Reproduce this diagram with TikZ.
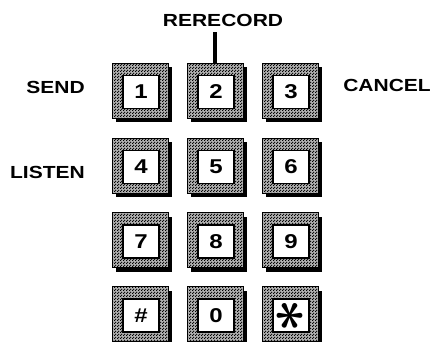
\documentclass[tikz,border=0pt]{standalone}
\usepackage{fontspec}
\setmainfont{Liberation Sans}[FakeStretch=1.2]
\usepackage{tikz}
\usetikzlibrary{shadows,patterns.meta}

% halftone dots on the key rims
\tikzdeclarepattern{
  name=keydots,
  type=uncolored,
  bounding box={(0pt,0pt) and (3pt,3pt)},
  tile size={(3pt,3pt)},
  code={
    \fill (0.75pt,0.75pt) circle (0.95pt);
    \fill (2.25pt,2.25pt) circle (0.95pt);
  }
}

\begin{document}
\begin{tikzpicture}[x=1pt,y=1pt,
  key/.style={minimum width=56pt,minimum height=55pt,draw,line width=1pt,
    drop shadow={shadow xshift=4pt,shadow yshift=-4pt,fill=black,opacity=1},
    preaction={fill=black!30},preaction={pattern=keydots}},
  face/.style={draw,fill=white,line width=1.9pt,minimum width=36pt,minimum height=33pt,
    inner sep=0pt,font=\fontsize{20}{20}\selectfont\bfseries},
  lbl/.style={font=\fontsize{17.5}{18}\selectfont\bfseries,inner sep=1pt}]
  \useasboundingbox (0,0) rectangle (435,341);
  \clip (0,0) rectangle (435,341);

  % key bodies
  \node[key] (k1) at (140,250.5) {};
  \node[key] (k2) at (215,250.5) {};
  \node[key] (k3) at (290,250.5) {};
  \node[key] (k4) at (140,175.5) {};
  \node[key] (k5) at (215,175.5) {};
  \node[key] (k6) at (290,175.5) {};
  \node[key] (k7) at (140,101) {};
  \node[key] (k8) at (215,101) {};
  \node[key] (k9) at (290,101) {};
  \node[key] (kh) at (140,27) {};
  \node[key] (k0) at (215,27) {};
  \node[key] (ks) at (290,27) {};

  % key faces
  \node[face] (f1) at ([xshift=1pt,yshift=-1.5pt]k1.center) {1};
  \node[face] (f2) at ([xshift=1pt,yshift=-1.5pt]k2.center) {2};
  \node[face] (f3) at ([xshift=1pt,yshift=-1.5pt]k3.center) {3};
  \node[face] (f4) at ([xshift=1pt,yshift=-1.5pt]k4.center) {4};
  \node[face] (f5) at ([xshift=1pt,yshift=-1.5pt]k5.center) {5};
  \node[face] (f6) at ([xshift=1pt,yshift=-1.5pt]k6.center) {6};
  \node[face] (f7) at ([xshift=1pt,yshift=-1.5pt]k7.center) {7};
  \node[face] (f8) at ([xshift=1pt,yshift=-1.5pt]k8.center) {8};
  \node[face] (f9) at ([xshift=1pt,yshift=-1.5pt]k9.center) {9};
  \node[face] (fh) at ([xshift=1pt,yshift=-1.5pt]kh.center) {\#};
  \node[face] (f0) at ([xshift=1pt,yshift=-1.5pt]k0.center) {0};
  \node[face] (fs) at ([xshift=1pt,yshift=-1.5pt]ks.center) {\rotatebox{90}{\scalebox{2.8}{\boldmath$\ast$}}};

  % labels
  \node[lbl,anchor=east] (send) at (86,254) {SEND};
  \node[lbl,anchor=east] (listen) at (86,169) {LISTEN};
  \node[lbl,anchor=east] (cancel) at (432,256) {CANCEL};
  \node[lbl] (rerecord) at (223,321) {RERECORD};
  \draw[line width=4.5pt] (k2.north) -- ([yshift=-5pt]k2.north |- rerecord.south);
\end{tikzpicture}
\end{document}
